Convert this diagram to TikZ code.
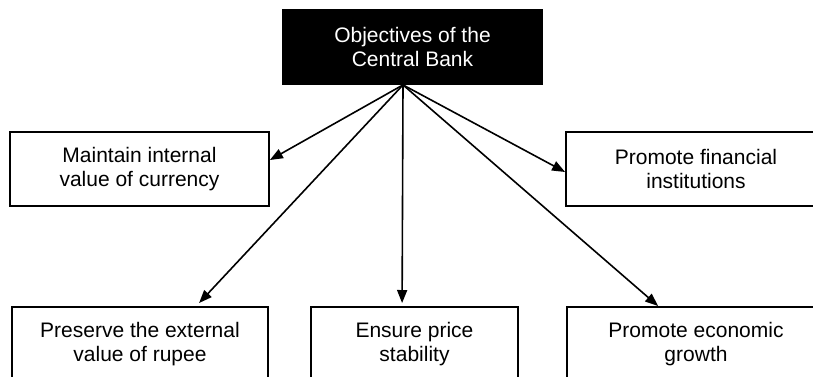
\documentclass[tikz,border=0pt]{standalone}
\usepackage{fontspec}
\setmainfont{Liberation Sans}
\usetikzlibrary{arrows.meta,calc}
\begin{document}
\begin{tikzpicture}[x=1pt,y=-1pt,
  box/.style={draw=black, line width=1.8pt, fill=white, inner sep=0pt},
  caption/.style={align=center, font=\fontsize{21}{23.5}\selectfont, inner sep=0pt},
  link/.style={line width=1.6pt, -{Triangle[length=13pt,width=10pt]}}]
\useasboundingbox (0,0) rectangle (813,376);
\clip (0,0) rectangle (813,376);

% heading box
\node[box, fill=black, text=white, caption, minimum width=259pt, minimum height=74pt]
  (obj) at (412.5,47) {Objectives of the\\Central Bank};
\coordinate (apex) at ([xshift=-9.5pt]obj.south);

% middle row
\node[box, caption, minimum width=259pt, minimum height=74pt]
  (maintain) at (139.5,169) {Maintain internal\\value of currency};
\node[box, caption, minimum width=260pt, minimum height=74pt]
  (finance) at (696,169) {Promote financial\\institutions};

% bottom row (boxes run past the lower edge)
\node[box, anchor=north, minimum width=256pt, minimum height=120pt] (preserve) at (140,306) {};
\node[box, anchor=north, minimum width=207pt, minimum height=120pt] (ensure) at (414.5,306) {};
\node[box, anchor=north, minimum width=258pt, minimum height=120pt] (growth) at (696,306) {};
\node[caption] (preservetext) at (140,344) {Preserve the external\\value of rupee};
\node[caption] (ensuretext) at (414.5,344) {Ensure price\\stability};
\node[caption] (growthtext) at (696,344) {Promote economic\\growth};

% connectors
\draw[link] (apex) -- ([yshift=9pt]maintain.east);
\draw[link] (apex) -- ([yshift=-3pt]finance.west);
\draw[link] (apex) -- ($(preserve.north west)+(188,-3)$);
\draw[link] (apex) -- ($(ensure.north west)+(92,-3)$);
\draw[link] (apex) -- ($(growth.north west)+(92,0)$);
\end{tikzpicture}
\end{document}
